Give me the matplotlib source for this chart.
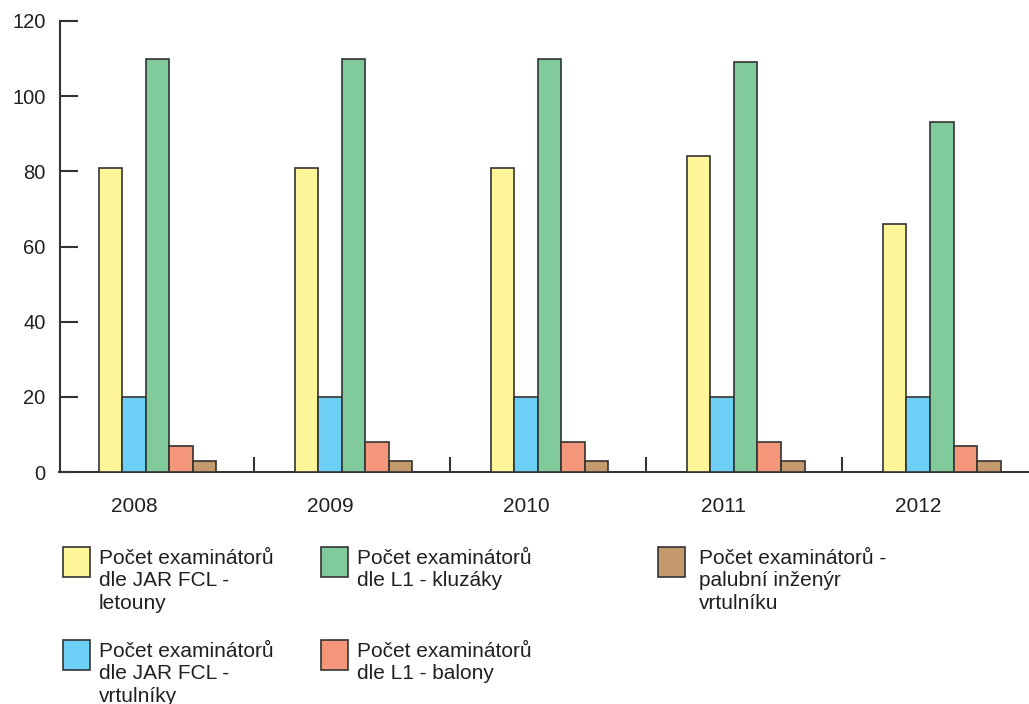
import matplotlib
matplotlib.use('Agg')
import matplotlib.pyplot as plt
import numpy as np
from matplotlib.patches import Rectangle

plt.rcParams['font.family'] = ['Liberation Sans', 'DejaVu Sans']

years = ['2008', '2009', '2010', '2011', '2012']
series = [
    'Počet examinátorů\ndle JAR FCL -\nletouny',
    'Počet examinátorů\ndle JAR FCL -\nvrtulníky',
    'Počet examinátorů\ndle L1 - kluzáky',
    'Počet examinátorů\ndle L1 - balony',
    'Počet examinátorů -\npalubní inženýr\nvrtulníku',
]
jar_letouny = [81, 81, 81, 84, 66]
jar_vrtulniky = [20, 20, 20, 20, 20]
l1_kluzaky = [110, 110, 110, 109, 93]
l1_balony = [7, 8, 8, 8, 7]
palubni = [3, 3, 3, 3, 3]
values = [jar_letouny, jar_vrtulniky, l1_kluzaky, l1_balony, palubni]
colors = ['#fff599', '#6dcff6', '#80ca9b', '#f4967a', '#c49a6c']

W, H = 1029, 704
fig = plt.figure(figsize=(W / 100, H / 100), dpi=100)
ax = fig.add_axes([59.5 / W, (H - 472) / H, 1 - 59.5 / W, (472 - 21) / H])

x = np.arange(len(years))
bw = 0.12
for i, (vals, c) in enumerate(zip(values, colors)):
    ax.bar(x + (i - 2) * bw, vals, bw, color=c, edgecolor='#333333', linewidth=1.2, zorder=3)

ax.set_xlim(-0.5, 4.445)
ax.set_ylim(0, 120)
ax.set_yticks(range(0, 121, 20))
ax.set_xticks(x)
ax.set_xticklabels(years, ha='right')
ax.set_xticks(x[:-1] + 0.49, minor=True)
ax.tick_params(axis='y', direction='in', length=13, width=1.5, color='#333333',
               labelsize=14.5, pad=10, labelcolor='#231f20')
ax.tick_params(axis='x', which='major', length=0, labelsize=15, pad=18, labelcolor='#231f20')
ax.tick_params(axis='x', which='minor', direction='in', length=11, width=1.5, color='#333333')
for s in ['top', 'right']:
    ax.spines[s].set_visible(False)
for s in ['left', 'bottom']:
    ax.spines[s].set_linewidth(1.5)
    ax.spines[s].set_color('#333333')

# legend drawn by hand: 3 columns, filled column by column
col_x = [63, 321, 658]
text_x = [99, 357, 699]
row_y = [547, 640]
for k, (name, c) in enumerate(zip(series, colors)):
    cx = col_x[k // 2]
    ry = row_y[k % 2]
    fig.add_artist(Rectangle((cx / W, (H - ry - 30) / H), 27 / W, 30 / H,
                             transform=fig.transFigure, facecolor=c,
                             edgecolor='#333333', linewidth=1.2))
    fig.text(text_x[k // 2] / W, (H - ry - 2) / H, name, fontsize=15, va='top', ha='left',
             color='#231f20', linespacing=1.22)

fig.savefig('out.png', dpi=100)
